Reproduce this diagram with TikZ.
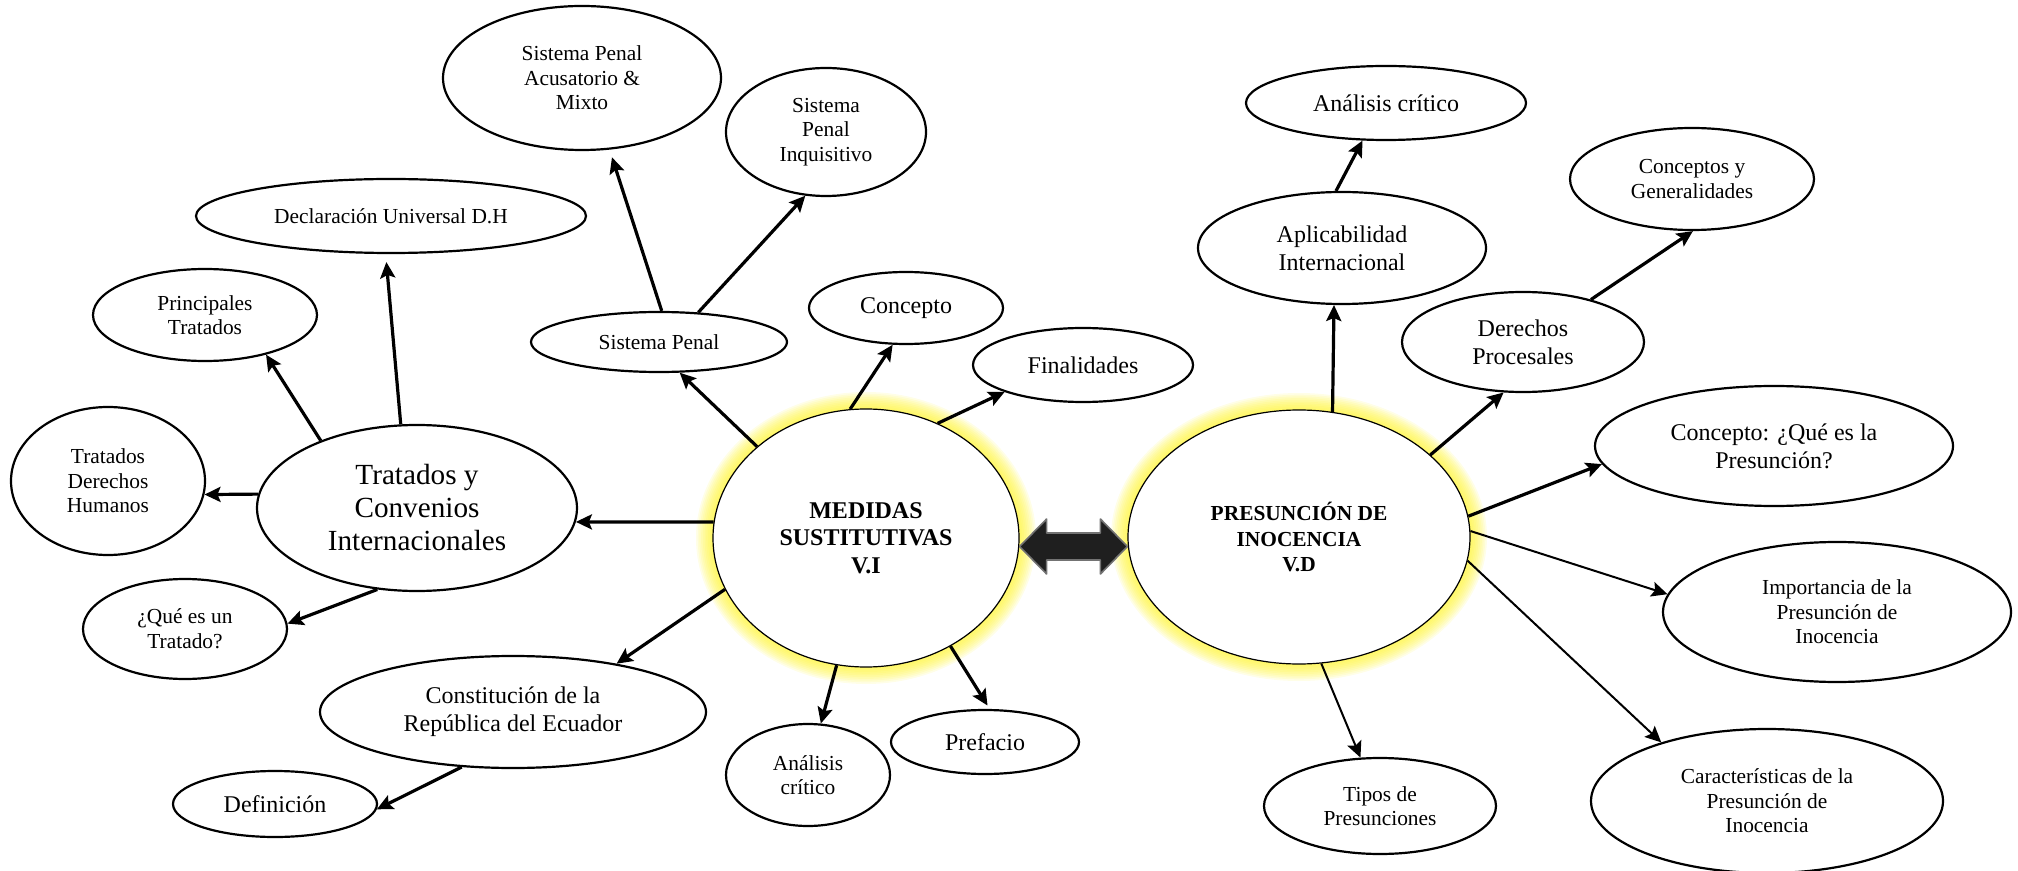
\documentclass[tikz,border=0pt]{standalone}
\usepackage{fontspec}
\setmainfont{Liberation Serif}
\usetikzlibrary{shapes.geometric,arrows.meta,calc,backgrounds}
\begin{document}
\begin{tikzpicture}[x=0.5pt,y=-0.5pt,>={Stealth[length=8pt,width=7.5pt,inset=1.5pt]},line join=round,
	bub/.style={ellipse,draw,line width=1.1pt,fill=white,inner sep=0pt,align=center,font=\fontsize{10.7}{12.3}\selectfont},
	big/.style={font=\fontsize{12}{14}\selectfont},
	hub/.style={ellipse,draw,line width=0.6pt,fill=white,inner sep=0pt,align=center,font=\bfseries\fontsize{12}{13.8}\selectfont},
	arr/.style={->,line width=1.6pt},
	arrlt/.style={->,line width=1pt}]
		\useasboundingbox (0,0) rectangle (2018,871);
		\node[bub,minimum width=139pt,minimum height=72pt] (spam) at (582,78) {Sistema Penal\\Acusatorio \&\\Mixto};
		\node[bub,minimum width=100pt,minimum height=64pt] (inq) at (826,132) {Sistema\\Penal\\Inquisitivo};
		\node[bub,minimum width=195pt,minimum height=37pt] (decl) at (391,216) {Declaración Universal D.H};
		\node[bub,minimum width=112pt,minimum height=46pt] (princ) at (205,315) {Principales\\Tratados};
		\node[bub,minimum width=128pt,minimum height=30pt] (sp) at (659,342) {Sistema Penal};
		\node[bub,big,minimum width=97pt,minimum height=36pt] (conc) at (906,308) {Concepto};
		\node[bub,big,minimum width=110pt,minimum height=37pt] (fin) at (1083,365) {Finalidades};
		\node[bub,minimum width=97pt,minimum height=74pt] (tdh) at (108,481) {Tratados\\Derechos\\Humanos};
		\node[bub,font=\fontsize{14.6}{16.5}\selectfont,minimum width=160pt,minimum height=83pt] (tyc) at (417,508) {Tratados y\\Convenios\\Internacionales};
		\node[hub,minimum width=153pt,minimum height=129pt] (med) at (866,538) {MEDIDAS\\SUSTITUTIVAS\\V.I};
		\node[bub,minimum width=102pt,minimum height=50pt] (que) at (185,629) {¿Qué es un\\Tratado?};
		\node[bub,big,minimum width=193pt,minimum height=56pt] (const) at (513,712) {Constitución de la\\República del Ecuador};
		\node[bub,big,minimum width=102pt,minimum height=33pt] (def) at (275,804) {Definición};
		\node[bub,minimum width=82pt,minimum height=51pt] (anl) at (808,775) {Análisis\\crítico};
		\node[bub,big,minimum width=94pt,minimum height=32pt] (pref) at (985,742) {Prefacio};
		\node[hub,font=\bfseries\fontsize{10.7}{12.8}\selectfont,minimum width=171pt,minimum height=127pt] (pres) at (1299,537) {PRESUNCIÓN DE\\INOCENCIA\\V.D};
		\node[bub,big,minimum width=140pt,minimum height=37pt] (anc) at (1386,103) {Análisis crítico};
		\node[bub,minimum width=122pt,minimum height=51pt] (gen) at (1692,179) {Conceptos y\\Generalidades};
		\node[bub,big,minimum width=144pt,minimum height=56pt] (apl) at (1342,248) {Aplicabilidad\\Internacional};
		\node[bub,big,minimum width=121pt,minimum height=50pt] (der) at (1523,342) {Derechos\\Procesales};
		\node[bub,big,minimum width=179pt,minimum height=60pt] (cq) at (1774,446) {Concepto: ¿Qué es la\\Presunción?};
		\node[bub,minimum width=174pt,minimum height=70pt] (imp) at (1837,612) {Importancia de la\\Presunción de\\Inocencia};
		\node[bub,minimum width=176pt,minimum height=72pt] (car) at (1767,801) {Características de la\\Presunción de\\Inocencia};
		\node[bub,minimum width=116pt,minimum height=48pt] (tipos) at (1380,806) {Tipos de\\Presunciones};
		\begin{pgfonlayer}{background}
		\foreach \n/\a/\b in {med/153/129,pres/171/127}
		\foreach \k in {1,...,10}
		\fill[yellow!85!white,opacity=.11] (\n.center) ellipse[x radius=\a+\k*1.7,y radius=\b+\k*1.7];
		\end{pgfonlayer}
		\draw[arr] (med.140) -- (sp.-56);
		\draw[arr,shorten >=4pt] (sp.85) -- (spam.-69);
		\draw[arr] (sp.37) -- (inq.-108);
		\draw[arr] (med.97) -- (conc.-110);
		\draw[arr] (med.58) -- (fin.-161);
		\draw[arr] (med.174) -- (tyc.-5);
		\draw[arr] (tyc.175) -- (tdh.-8);
		\draw[arr] (tyc.145) -- (princ.-33);
		\draw[arr,shorten >=4pt] (tyc.101) -- (decl.-98);
		\draw[arr] (tyc.-116) -- (que.3);
		\draw[arr] (med.-160) -- (const.25);
		\draw[arr] (const.-133) -- (def.-3);
		\draw[arr] (med.-103) -- (anl.76);
		\draw[arr,shorten >=2pt] (med.-52) -- (pref.82);
		\draw[arr] (pres.75) -- (apl.-98);
		\draw[arr] (apl.96) -- (anc.-122);
		\draw[arr] (pres.32) -- (der.-111);
		\draw[arr] (der.32) -- (gen.-89);
		\draw[arr] (pres.7) -- (cq.-174);
		\draw[arrlt] (pres.2) -- (imp.174);
		\draw[arrlt] (pres.-8) -- (car.151);
		\draw[arrlt] (pres.-80) -- (tipos.112);
		\path ($(med.east)+(0,8.5)$) coordinate (l) ($(pres.west)+(0,9.5)$) coordinate (r);
		\filldraw[fill=black!88,draw=black!55,line width=0.8pt] (l) -- ++(27,-27.5) -- ++(0,14) -- ($(r)+(-27,-13.5)$) -- ++(0,-14) -- (r) -- ++(-27,27.5) -- ++(0,-14) -- ($(l)+(27,13.5)$) -- ++(0,14) -- cycle;
\end{tikzpicture}
\end{document}
